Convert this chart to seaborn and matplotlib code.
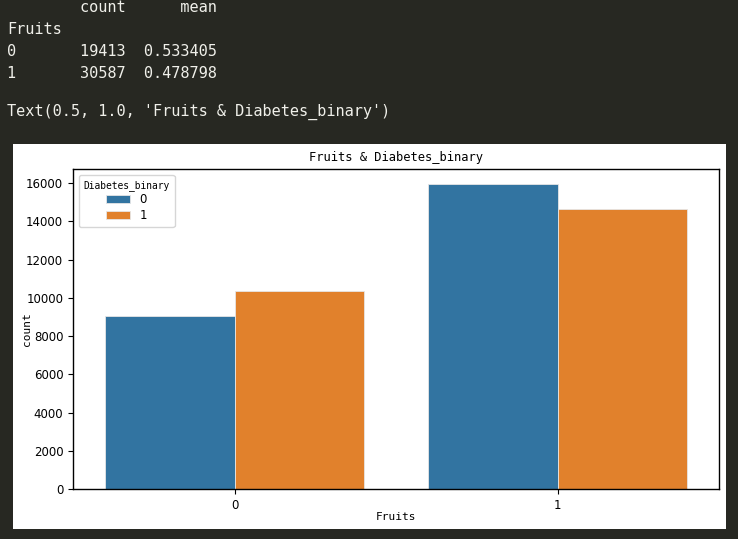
import matplotlib
matplotlib.use("Agg")
import matplotlib.pyplot as plt
from matplotlib import font_manager
from matplotlib.patches import Rectangle
import seaborn as sns
import pandas as pd

# ---- data ----
fruits_levels = ["0", "1"]
diabetes_levels = ["0", "1"]
fruits = ["0", "0", "1", "1"]
diabetes = ["0", "1", "0", "1"]
counts = [9058, 10355, 15942, 14645]
summary_count = [19413, 30587]
summary_mean = [0.533405, 0.478798]
title = "Fruits & Diabetes_binary"

avail = {f.name for f in font_manager.fontManager.ttflist}
def pick(*names):
    for n in names:
        if n in avail:
            return n
    return "DejaVu Sans"

narrow = pick("Liberation Sans Narrow", "DejaVu Sans Condensed", "DejaVu Sans")
mono = pick("DejaVu Sans Mono", "Liberation Mono")

W, H = 738, 539
fig = plt.figure(figsize=(W / 100, H / 100), dpi=100)
fig.patch.set_facecolor("#272822")

def fx(x): return x / W
def fy(y): return 1 - y / H

# notebook text output
txt_color = "#f0f0ea"
lines = [
    (8, "        count      mean"),
    (30, "Fruits"),
    (52, f"{fruits_levels[0]:<8}{summary_count[0]}  {summary_mean[0]:.6f}"),
    (73, f"{fruits_levels[1]:<8}{summary_count[1]}  {summary_mean[1]:.6f}"),
    (112, f"Text(0.5, 1.0, '{title}')"),
]
for y, s in lines:
    fig.text(fx(7), fy(y), s, family=mono, fontsize=11, color=txt_color,
             va="center", ha="left")

# white chart background
fig.patches.append(Rectangle((fx(13), fy(529)), fx(726) - fx(13), fy(144) - fy(529),
                             transform=fig.transFigure, facecolor="white",
                             edgecolor="none", zorder=-10))

ax_l, ax_r, ax_t, ax_b = 73, 719, 169, 489
ax = fig.add_axes([fx(ax_l), fy(ax_b), fx(ax_r) - fx(ax_l), fy(ax_t) - fy(ax_b)])
ax.set_zorder(5)
ax.set_facecolor("white")

df = pd.DataFrame({"Fruits": fruits, "Diabetes_binary": diabetes, "count": counts})
sns.barplot(data=df, x="Fruits", y="count", hue="Diabetes_binary",
            order=fruits_levels, hue_order=diabetes_levels, ax=ax,
            palette=["#1f77b4", "#ff7f0e"], saturation=0.75,
            edgecolor="#e6e6e6", linewidth=0.6)

for s in ax.spines.values():
    s.set_color("black")
    s.set_linewidth(1.0)
ax.tick_params(axis="both", labelsize=8.5, length=3.5, width=0.8, colors="black")
for lab in ax.get_xticklabels() + ax.get_yticklabels():
    lab.set_family(narrow)
ax.set_yticks([0, 2000, 4000, 6000, 8000, 10000, 12000, 14000, 16000])
ax.set_title(title, family=mono, fontsize=8.7, pad=6)
ax.set_xlabel("Fruits", family=mono, fontsize=8)
ax.set_ylabel("count", family=mono, fontsize=8)
ax.yaxis.set_label_coords((27 - ax_l) / (ax_r - ax_l), 0.5)
ax.xaxis.set_label_coords(0.5, -(517 - ax_b) / (ax_b - ax_t))
ax.xaxis.label.set_va("center")
ax.yaxis.label.set_va("center")

leg = ax.legend(title="Diabetes_binary", loc="upper left",
                prop={"family": narrow, "size": 8.5},
                handlelength=2.0, handleheight=0.7, borderpad=0.4,
                labelspacing=0.25)
leg.get_title().set_family(mono)
leg.get_title().set_fontsize(6.9)

fig.savefig("out.png", dpi=100, facecolor=fig.get_facecolor())
